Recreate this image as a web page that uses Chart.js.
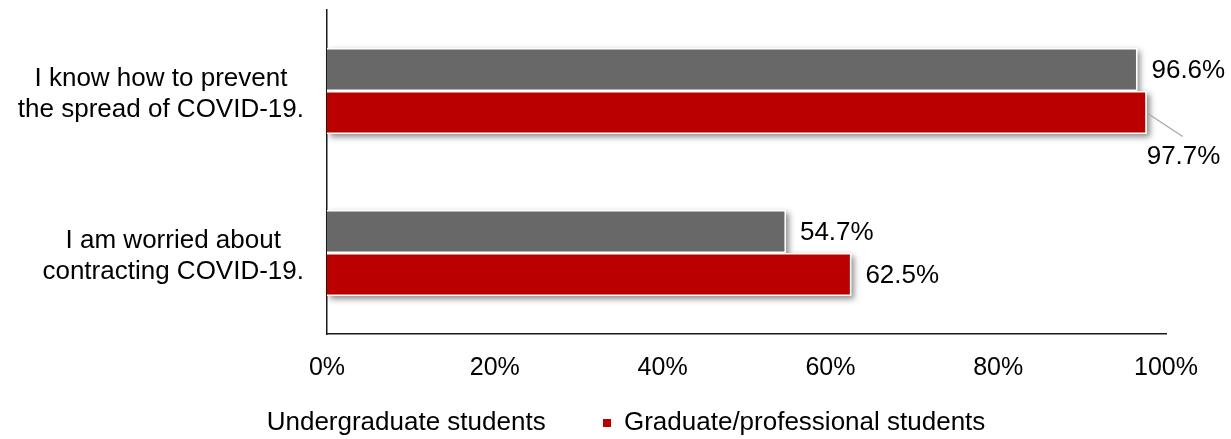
<!DOCTYPE html>
<html>
<head>
<meta charset="utf-8">
<script src="https://cdn.jsdelivr.net/npm/chart.js@4.4.1/dist/chart.umd.min.js"></script>
<style>
  html, body { margin: 0; padding: 0; background: #fff; overflow: hidden; }
  #wrap { position: relative; width: 1231px; height: 446px; }
</style>
</head>
<body>
<div id="wrap"><canvas id="chart"></canvas></div>
<script>
const categories = [
  ['I know how to prevent', 'the spread of COVID-19.'],
  ['I am worried about', 'contracting COVID-19.']
];
const seriesNames = ['Undergraduate students', 'Graduate/professional students'];
const undergraduate = [96.6, 54.7];
const graduate = [97.7, 62.5];
const xTickStep = 20;
const xMax = 100;

const FONT = '"Liberation Sans", Arial, Helvetica, sans-serif';
Chart.defaults.font.family = FONT;
Chart.defaults.color = '#000';

// soft drop shadow behind each bar (drawn first, bars cover the rect itself)
const barShadow = {
  id: 'barShadow',
  beforeDatasetsDraw(chart) {
    const ctx = chart.ctx;
    ctx.save();
    ctx.shadowColor = 'rgba(0,0,0,0.45)';
    ctx.shadowBlur = 6;
    ctx.shadowOffsetX = 3;
    ctx.shadowOffsetY = 3;
    ctx.fillStyle = '#fff';
    chart.data.datasets.forEach((ds, di) => {
      chart.getDatasetMeta(di).data.forEach(bar => {
        const { x, y, base, height } = bar.getProps(['x', 'y', 'base', 'height'], true);
        ctx.fillRect(base, y - height / 2, x - base, height);
      });
    });
    ctx.restore();
  }
};

// percentage labels at the end of each bar; a label that would run off
// the canvas goes below the bar with a short leader line
const valueLabels = {
  id: 'valueLabels',
  afterDatasetsDraw(chart) {
    const ctx = chart.ctx;
    ctx.save();
    ctx.font = '26px ' + FONT;
    ctx.fillStyle = '#000';
    ctx.textBaseline = 'middle';
    ctx.textAlign = 'left';
    chart.data.datasets.forEach((ds, di) => {
      chart.getDatasetMeta(di).data.forEach((bar, i) => {
        const text = ds.data[i].toFixed(1) + '%';
        const w = ctx.measureText(text).width;
        const tx = bar.x + 14;
        if (tx + w > chart.width - 4) {
          ctx.strokeStyle = '#a6a6a6';
          ctx.lineWidth = 1.2;
          ctx.beginPath();
          ctx.moveTo(bar.x + 1, bar.y + 1);
          ctx.lineTo(bar.x + 36, bar.y + 24);
          ctx.stroke();
          ctx.fillText(text, bar.x, bar.y + 44);
        } else {
          ctx.fillText(text, tx, bar.y + 1);
        }
      });
    });
    ctx.restore();
  }
};

// two-line category labels, lines centred within their own block,
// block right-aligned against the axis
const categoryLabels = {
  id: 'categoryLabels',
  afterDraw(chart) {
    const ctx = chart.ctx;
    const yScale = chart.scales.y;
    const right = chart.chartArea.left - 23;
    ctx.save();
    ctx.font = '26px ' + FONT;
    ctx.fillStyle = '#000';
    ctx.textBaseline = 'middle';
    ctx.textAlign = 'center';
    categories.forEach((lines, i) => {
      const cy = yScale.getPixelForValue(i) + 3;
      const block = Math.max(...lines.map(l => ctx.measureText(l).width));
      const cx = right - block / 2;
      lines.forEach((line, j) => {
        ctx.fillText(line, cx, cy + (j - (lines.length - 1) / 2) * 31);
      });
    });
    ctx.restore();
  }
};

new Chart(document.getElementById('chart'), {
  type: 'bar',
  data: {
    labels: categories,
    datasets: [
      {
        label: seriesNames[0],
        data: undergraduate,
        backgroundColor: '#686868',
        borderColor: '#ffffff',
        borderWidth: 1.5,
        borderSkipped: 'start',
        categoryPercentage: 0.53,
        barPercentage: 1
      },
      {
        label: seriesNames[1],
        data: graduate,
        backgroundColor: '#bb0000',
        borderColor: '#ffffff',
        borderWidth: 1.5,
        borderSkipped: 'start',
        categoryPercentage: 0.53,
        barPercentage: 1
      }
    ]
  },
  options: {
    indexAxis: 'y',
    responsive: true,
    maintainAspectRatio: false,
    animation: false,
    layout: { padding: { top: 10, left: 65, right: 65, bottom: 0 } },
    scales: {
      x: {
        min: 0,
        max: xMax,
        ticks: {
          stepSize: xTickStep,
          padding: 19,
          color: '#000',
          font: { size: 25 },
          callback: v => v + '%'
        },
        grid: { display: false, drawTicks: false },
        border: { display: true, color: '#1a1a1a', width: 1.5 },
        afterFit(scale) { scale.height = 49; }
      },
      y: {
        z: 1,
        ticks: { display: false },
        grid: { display: false, drawTicks: false },
        border: { display: true, color: '#1a1a1a', width: 1.5 },
        afterFit(scale) { scale.width = 262; }
      }
    },
    plugins: {
      tooltip: { enabled: false },
      legend: {
        position: 'bottom',
        labels: {
          boxWidth: 8,
          boxHeight: 8,
          padding: 27,
          color: '#000',
          font: { size: 26 },
          generateLabels(chart) {
            const items = Chart.defaults.plugins.legend.labels.generateLabels(chart);
            items.forEach(it => { it.lineWidth = 0; it.strokeStyle = 'rgba(0,0,0,0)'; });
            // undergraduate entry has no marker and a wider gap after it
            items[0].fillStyle = 'rgba(0,0,0,0)';
            items[0].text = seriesNames[0] + '\u2003\u2006';
            return items;
          }
        }
      }
    }
  },
  plugins: [barShadow, valueLabels, categoryLabels]
});
</script>
</body>
</html>
